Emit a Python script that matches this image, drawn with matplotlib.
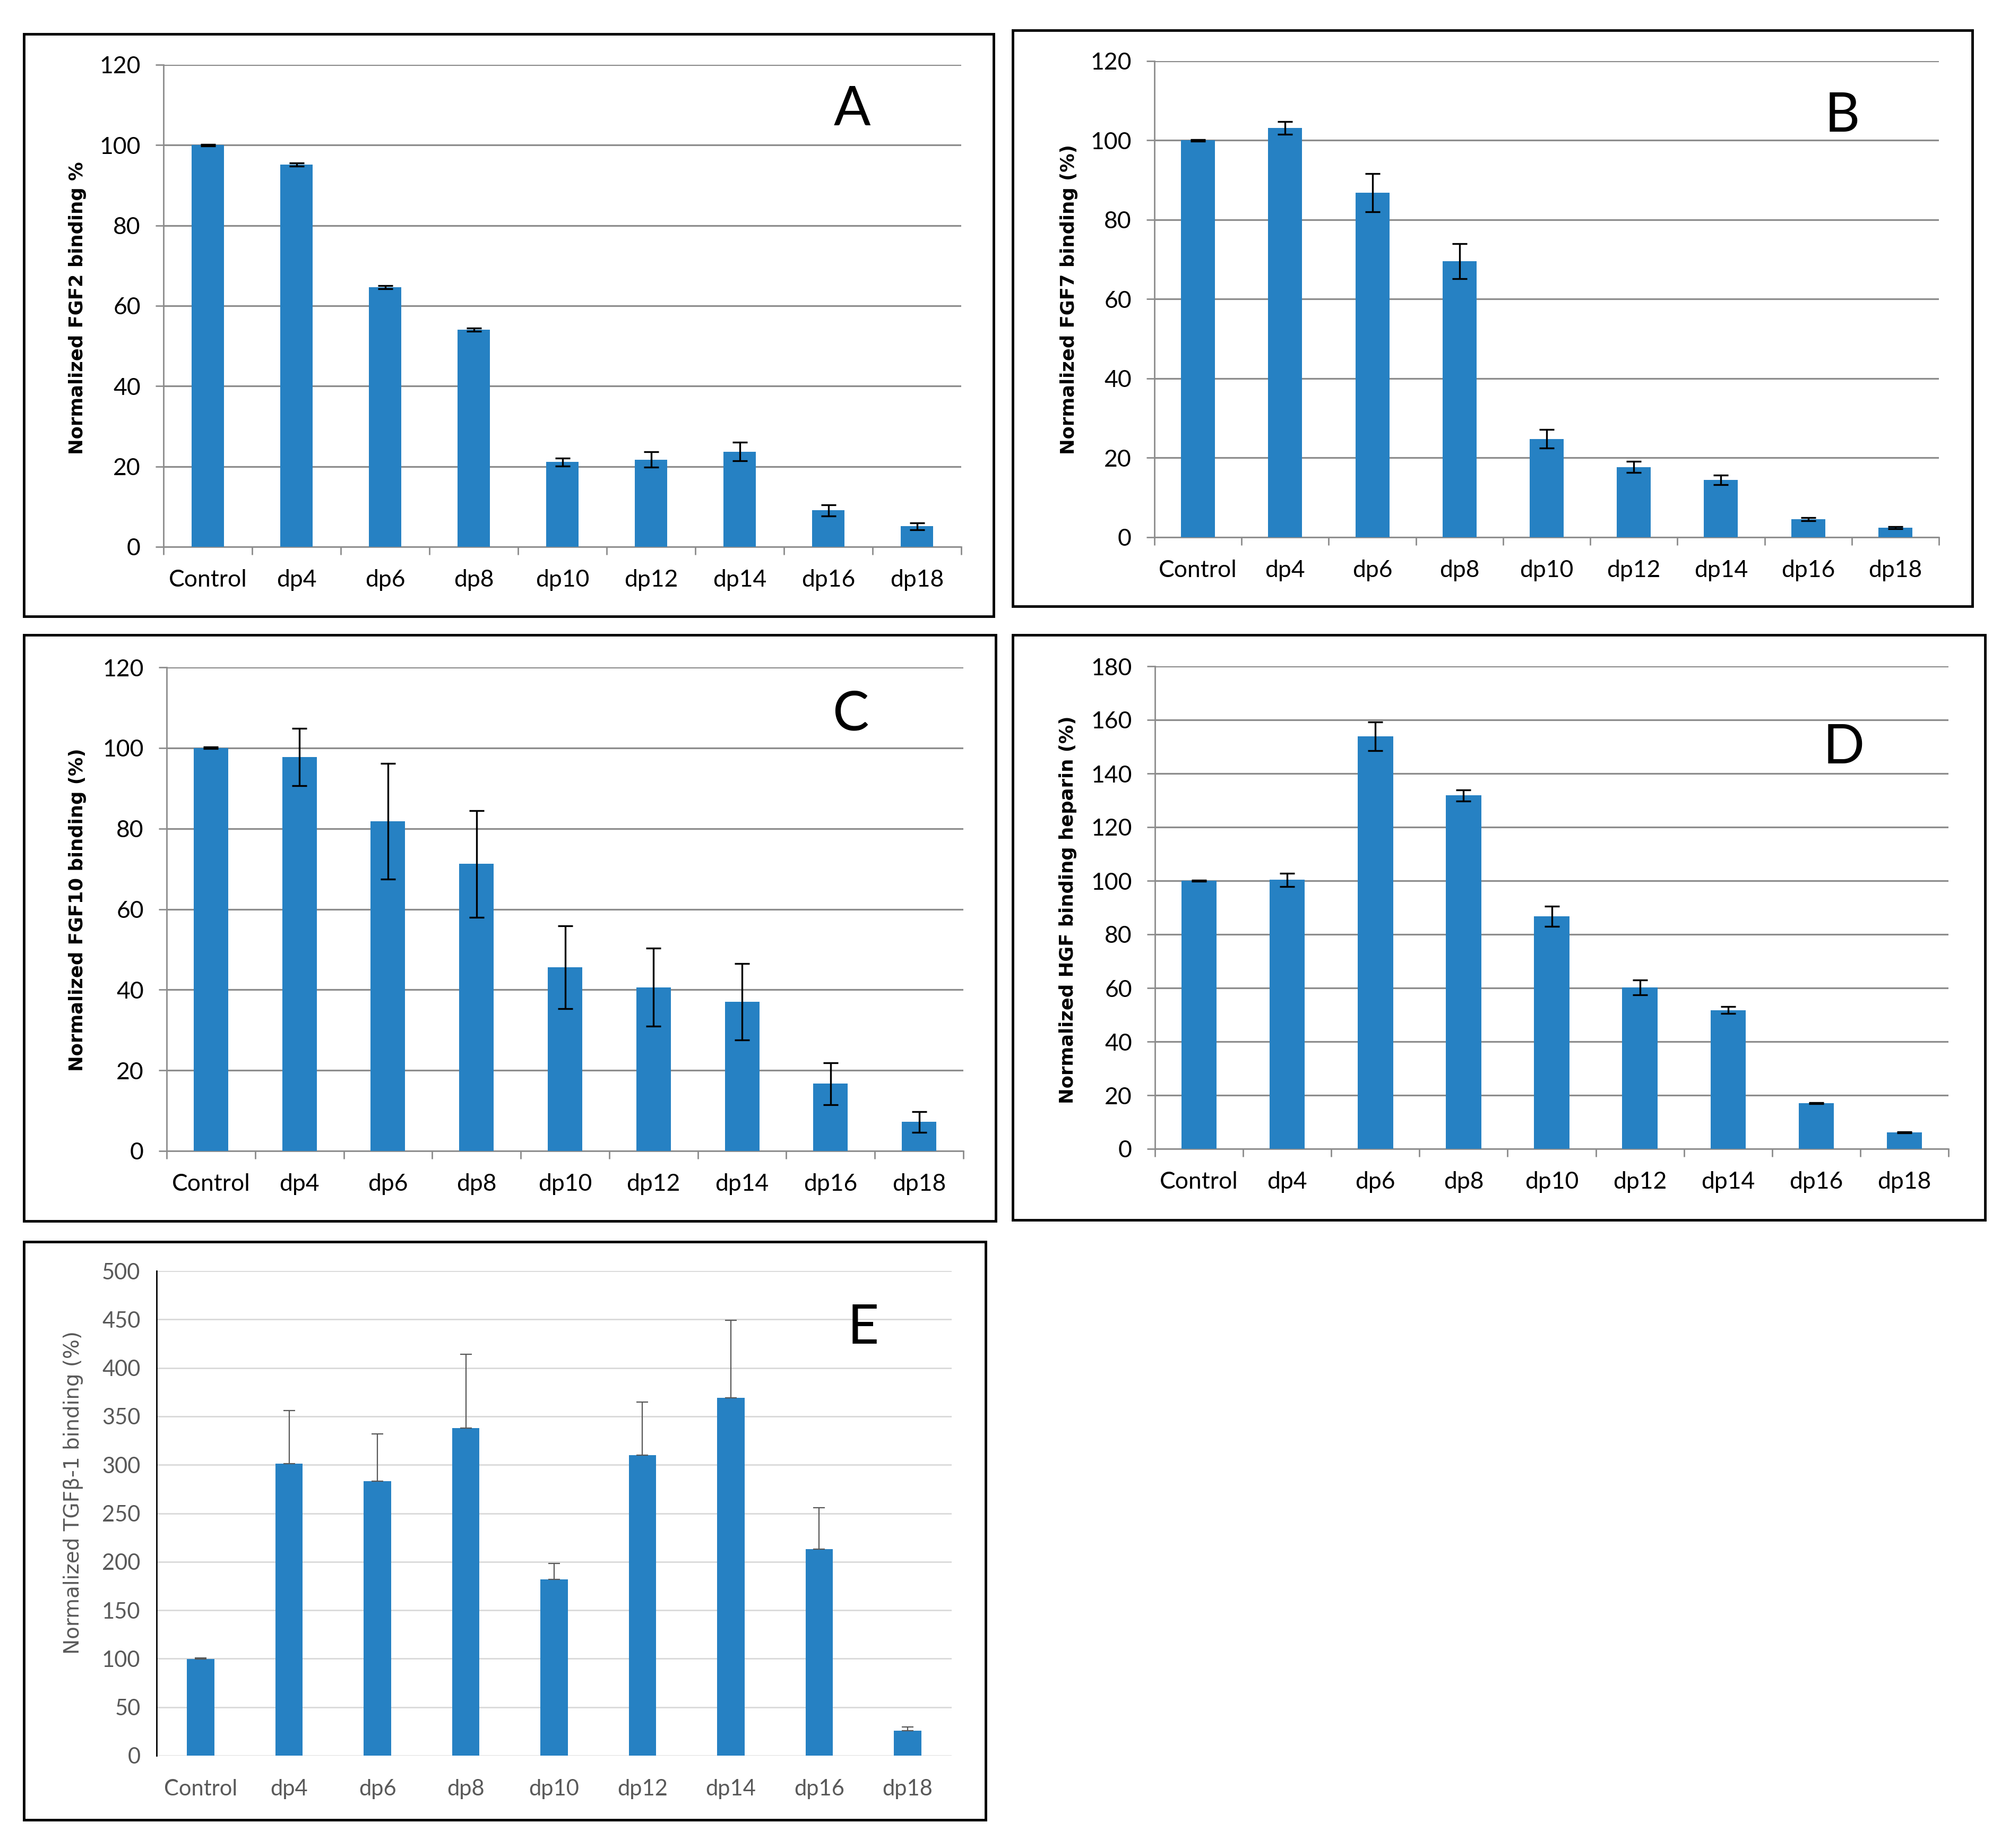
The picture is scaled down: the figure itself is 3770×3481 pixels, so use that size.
import matplotlib
matplotlib.use("Agg")
import matplotlib.pyplot as plt
from matplotlib.patches import Rectangle
import numpy as np

labels = ['Control', 'dp4', 'dp6', 'dp8', 'dp10', 'dp12', 'dp14', 'dp16', 'dp18']

fgf2 = [100, 95.1, 64.6, 54.1, 21.1, 21.7, 23.7, 9.1, 5.1]
fgf2_err = [0.2, 0.4, 0.4, 0.4, 1.0, 1.9, 2.3, 1.4, 0.9]

fgf7 = [100, 103.2, 86.8, 69.6, 24.8, 17.7, 14.5, 4.6, 2.4]
fgf7_err = [0.2, 1.6, 4.8, 4.4, 2.3, 1.4, 1.2, 0.4, 0.3]

fgf10 = [100, 97.7, 81.8, 71.2, 45.6, 40.6, 37.0, 16.7, 7.2]
fgf10_err = [0.2, 7.1, 14.3, 13.2, 10.3, 9.7, 9.5, 5.2, 2.6]

hgf = [100, 100.3, 153.9, 131.8, 86.7, 60.2, 51.7, 17.1, 6.2]
hgf_err = [0.2, 2.4, 5.4, 2.1, 3.8, 2.8, 1.3, 0.2, 0.2]

tgfb = [99.5, 301, 283, 338, 182, 310, 369, 213, 25.5]
tgfb_err = [1.5, 55, 49, 76, 16, 55, 80, 43, 4]

W, H = 3770, 3481
fig = plt.figure(figsize=(W / 100, H / 100), dpi=100)
fig.patch.set_facecolor('white')

BLUE = '#2681c3'
GRID = '#8c8c8c'
TICKFONT = 'Lato'


def px_axes(x0, x1, ytop, ybot):
    return fig.add_axes([x0 / W, 1 - ybot / H, (x1 - x0) / W, (ybot - ytop) / H])


def frame(x0, y0, x1, y1):
    fig.patches.append(Rectangle((x0 / W, 1 - y1 / H), (x1 - x0) / W, (y1 - y0) / H,
                                 transform=fig.transFigure, fill=False,
                                 edgecolor='black', linewidth=3.5))


def panel(box, vals, errs, ymax, step, width, ylabel, letter, letter_xy, ylab_xy):
    ax = px_axes(*box)
    x = np.arange(len(labels))
    ax.bar(x, vals, width=width, color=BLUE, zorder=3)
    ax.errorbar(x, vals, yerr=errs, fmt='none', ecolor='black', elinewidth=2.4,
                capsize=10, capthick=2.4, zorder=4)
    ax.set_xlim(-0.5, len(labels) - 0.5)
    ax.set_ylim(0, ymax)
    ax.set_yticks(np.arange(0, ymax + 1, step))
    ax.yaxis.grid(True, color=GRID, linewidth=2.3, zorder=0)
    ax.set_axisbelow(True)
    for s in ['top', 'right']:
        ax.spines[s].set_visible(False)
    for s in ['left', 'bottom']:
        ax.spines[s].set_color(GRID)
        ax.spines[s].set_linewidth(2.0)
    ax.set_xticks(x)
    ax.set_xticklabels(labels, fontsize=32, family=TICKFONT)
    ax.set_xticks(np.arange(-0.5, len(labels)), minor=True)
    ax.tick_params(axis='x', which='major', length=0, pad=30)
    ax.tick_params(axis='x', which='minor', length=11, width=2.0, color=GRID)
    ax.tick_params(axis='y', length=11, width=2.0, color=GRID, pad=20, labelsize=32)
    for t in ax.get_yticklabels():
        t.set_family(TICKFONT)
    fig.text(ylab_xy[0] / W, 1 - ylab_xy[1] / H, ylabel, rotation=90, ha='center',
             va='center', fontsize=25.5, fontweight='bold', family='DejaVu Sans')
    fig.text(letter_xy[0] / W, 1 - letter_xy[1] / H, letter, ha='center', va='center',
             fontsize=74, family=TICKFONT)
    return ax


# A
frame(45, 64, 1872, 1161)
panel((308, 1811, 122, 1030), fgf2, fgf2_err, 120, 20, 0.37,
      'Normalized FGF2 binding %', 'A', (1605, 207), (146, 580))
# B
frame(1908, 57, 3716, 1142)
panel((2175, 3653, 115, 1012), fgf7, fgf7_err, 120, 20, 0.39,
      'Normalized FGF7 binding (%)', 'B', (3471, 219), (2014, 564))
# C
frame(45, 1196, 1876, 2300)
panel((314, 1815, 1257, 2168), fgf10, fgf10_err, 120, 20, 0.39,
      'Normalized FGF10 binding (%)', 'C', (1602, 1347), (146, 1714))
# D
frame(1908, 1196, 3740, 2298)
panel((2176, 3671, 1255, 2164), hgf, hgf_err, 180, 20, 0.40,
      'Normalized HGF binding heparin (%)', 'D', (3474, 1409), (2012, 1714))

# E
frame(45, 2339, 1857, 3428)
axe = px_axes(295, 1793, 2394, 3307)
xe = np.arange(len(labels))
axe.bar(xe, tgfb, width=0.31, color=BLUE, zorder=3)
axe.errorbar(xe, tgfb, yerr=[np.zeros(len(tgfb)), tgfb_err], fmt='none',
             ecolor='#595959', elinewidth=1.6, capsize=8, capthick=1.6, zorder=4)
axe.set_xlim(-0.5, len(labels) - 0.5)
axe.set_ylim(0, 500)
axe.set_yticks(np.arange(0, 501, 50))
axe.yaxis.grid(True, color='#d9d9d9', linewidth=2.0, zorder=0)
axe.set_axisbelow(True)
for s in ['top', 'right', 'bottom']:
    axe.spines[s].set_visible(False)
axe.spines['left'].set_color('black')
axe.spines['left'].set_linewidth(2.0)
axe.set_xticks(xe)
axe.set_xticklabels(labels, fontsize=30, family=TICKFONT, color='#595959')
axe.tick_params(axis='x', length=0, pad=32)
axe.tick_params(axis='y', length=0, pad=22, labelsize=30, labelcolor='#595959')
for t in axe.get_yticklabels():
    t.set_family(TICKFONT)
fig.text(138 / W, 1 - 2812 / H, 'Normalized TGFβ-1 binding (%)', rotation=90,
         ha='center', va='center', fontsize=28, color='#595959', family='DejaVu Sans')
fig.text(1626 / W, 1 - 2502 / H, 'E', ha='center', va='center', fontsize=74,
         family=TICKFONT)

fig.savefig('out.png', dpi=100, facecolor='white')
